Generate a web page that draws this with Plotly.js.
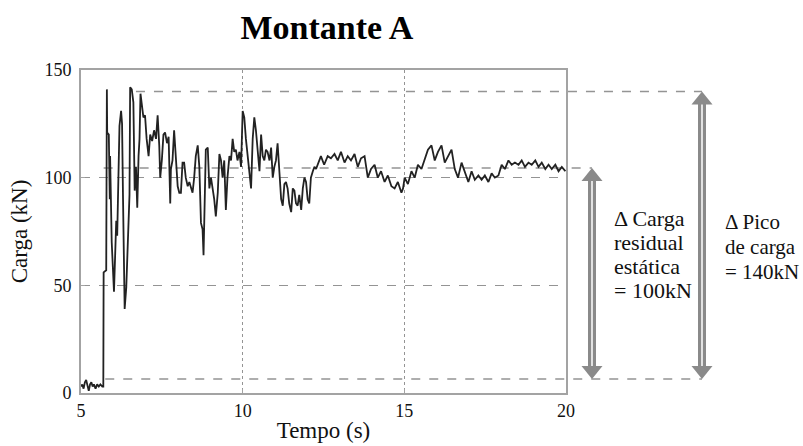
<!DOCTYPE html>
<html>
<head>
<meta charset="utf-8">
<script src="https://cdn.plot.ly/plotly-3.0.1.min.js"></script>
<style>
  html, body { margin: 0; padding: 0; background: #fff; }
  #chart { width: 803px; height: 446px; }
</style>
</head>
<body>
<div id="chart"></div>
<script>
// Load record of the upright (Montante A): time in seconds, load in kN
const time = [
  5.00, 5.04, 5.08, 5.12, 5.16, 5.20, 5.24, 5.28, 5.32, 5.36, 5.40, 5.45, 5.50, 5.55, 5.60, 5.66, 5.69,
  5.70, 5.78, 5.80, 5.81, 5.86, 5.89, 5.90, 5.95, 6.02, 6.05, 6.09, 6.12, 6.16, 6.19, 6.24, 6.27, 6.30,
  6.35, 6.40, 6.45, 6.50, 6.52, 6.57, 6.62, 6.66, 6.70, 6.74, 6.78, 6.81, 6.84, 6.89, 6.93, 6.98, 7.03,
  7.09, 7.14, 7.20, 7.26, 7.32, 7.37, 7.42, 7.45, 7.50, 7.55, 7.60, 7.66, 7.71, 7.76, 7.78, 7.83, 7.88,
  7.94, 7.99, 8.04, 8.09, 8.14, 8.19, 8.24, 8.30, 8.35, 8.40, 8.45, 8.50, 8.55, 8.61, 8.66, 8.71, 8.76,
  8.79, 8.82, 8.86, 8.92, 8.97, 9.02, 9.07, 9.12, 9.17, 9.23, 9.28, 9.33, 9.38, 9.43, 9.48, 9.53, 9.59,
  9.64, 9.69, 9.74, 9.79, 9.84, 9.90, 9.95, 10.00, 10.05, 10.10, 10.15, 10.21, 10.26, 10.31, 10.36,
  10.41, 10.46, 10.52, 10.57, 10.62, 10.67, 10.72, 10.77, 10.83, 10.88, 10.93, 10.98, 11.03, 11.08,
  11.13, 11.19, 11.24, 11.29, 11.34, 11.39, 11.44, 11.50, 11.55, 11.60, 11.65, 11.70, 11.75, 11.81,
  11.86, 11.91, 11.96, 12.01, 12.06, 12.11, 12.17, 12.22, 12.27, 12.32, 12.37,
  12.42, 12.52, 12.63, 12.73, 12.84, 12.94, 13.04, 13.15, 13.25, 13.35, 13.46, 13.56, 13.66, 13.77,
  13.87, 13.97, 14.08, 14.18, 14.28, 14.39, 14.49, 14.60, 14.70, 14.80, 14.91, 14.96, 15.01, 15.11,
  15.22, 15.32, 15.42, 15.53, 15.63, 15.73, 15.84, 15.94, 16.04, 16.15, 16.25, 16.35, 16.46, 16.56,
  16.66, 16.77, 16.87, 16.98, 17.08, 17.18, 17.29, 17.39, 17.49, 17.60, 17.70, 17.80, 17.91, 18.01,
  18.11, 18.22, 18.32, 18.42, 18.53, 18.63, 18.73, 18.84, 18.94, 19.05, 19.15, 19.25, 19.36, 19.46,
  19.56, 19.67, 19.77, 19.87, 19.98
];
const load = [
  3, 4, 2, 5, 6, 4, 1, 4, 5, 3, 4, 2, 4, 3, 4, 3, 3,
  56, 57, 141, 121, 120, 90, 110, 70, 47, 60, 80, 73, 100, 124, 131, 125, 90,
  39, 49, 75, 92, 142, 141, 135, 94, 105, 86, 110, 118, 139, 133, 128, 129, 118,
  110, 120, 117, 122, 118, 129, 115, 100, 108, 120, 121, 116, 119, 88, 104, 108, 122,
  108, 96, 93, 93, 107, 107, 100, 96, 98, 95, 93, 100, 110, 115, 105, 79, 76,
  64, 90, 113, 114, 95, 100, 95, 90, 82, 93, 111, 108, 100, 108, 85, 100, 110,
  108, 118, 112, 113, 108, 112, 105, 131, 128, 118, 110, 100, 95, 118, 128,
  122, 112, 103, 120, 110, 108, 113, 112, 108, 114, 100, 105, 108, 116,
  105, 90, 87, 97, 98, 95, 88, 84, 95, 94, 88, 87, 92, 85,
  95, 100, 98, 90, 88, 100, 103, 105, 104, 106, 108,
  110, 106, 110, 109, 111, 108, 112, 107, 110, 108, 111, 105, 109, 110,
  100, 104, 106, 100, 103, 98, 101, 96, 95, 98, 93, 95, 100, 97,
  103, 100, 106, 104, 108, 113, 115, 108, 112, 115, 107, 110, 113, 104,
  100, 107, 103, 98, 103, 99, 101, 99, 101, 98, 102, 100, 101, 106,
  104, 108, 106, 107, 106, 108, 105, 107, 106, 108, 105, 107, 104, 106,
  104, 106, 103, 105, 103
];

// Axis ticks and limits
const xTicks = [5, 10, 15, 20];
const yTicks = [0, 50, 100, 150];
const xRange = [5, 20];
const yRange = [0, 150];

// Reference levels marked on the record (kN) and where each dashed marker starts (s)
const peakLevel = 140, residualLevel = 104.5, baseLevel = 6.5;
const peakStart = 6.7, residualStart = 5.7, baseStart = 5.75;

// Bracket texts
const residualText = ['\u0394 Carga', 'residual', 'est\u00e1tica', '= 100kN'];
const peakText = ['\u0394 Pico', 'de carga', '= 140kN'];

const SERIF = 'Liberation Serif, Times New Roman, serif';
const GRID = '#949494';
const ARROW = '#8a8a8a';

// convert data values into paper fractions of the plotting area
const xp = t => (t - xRange[0]) / (xRange[1] - xRange[0]);
const yp = v => (v - yRange[0]) / (yRange[1] - yRange[0]);

const plotW = 803 - 81 - 237, plotH = 446 - 70 - 53;
const headHalf = 10.5 / plotW, headLen = 13 / plotH;

function dashLine(x0, x1, v) {
  return { type: 'line', xref: 'paper', yref: 'paper', x0: x0, x1: x1, y0: yp(v), y1: yp(v),
           line: { color: GRID, width: 1.5, dash: 'dash' }, layer: 'below' };
}
function doubleArrow(x, vTop, vBot) {
  const yt = yp(vTop), yb = yp(vBot);
  return [
    { type: 'line', xref: 'paper', yref: 'paper', x0: x, x1: x, y0: yb + headLen * 0.9, y1: yt - headLen * 0.9,
      line: { color: ARROW, width: 8 } },
    { type: 'line', xref: 'paper', yref: 'paper', x0: x, x1: x, y0: yb + headLen * 0.7, y1: yt - headLen * 0.7,
      line: { color: '#ffffff', width: 1.5 } },
    { type: 'path', xref: 'paper', yref: 'paper', fillcolor: ARROW, line: { width: 0 },
      path: `M ${x - headHalf} ${yt - headLen} L ${x} ${yt} L ${x + headHalf} ${yt - headLen} Z` },
    { type: 'path', xref: 'paper', yref: 'paper', fillcolor: ARROW, line: { width: 0 },
      path: `M ${x - headHalf} ${yb + headLen} L ${x} ${yb} L ${x + headHalf} ${yb + headLen} Z` }
  ];
}

const leftArrowX = (592 - 81) / plotW;
const rightArrowX = (702 - 81) / plotW;

const shapes = [
  dashLine(xp(peakStart), rightArrowX, peakLevel),
  dashLine(xp(residualStart), leftArrowX, residualLevel),
  dashLine(xp(baseStart), rightArrowX, baseLevel),
  ...doubleArrow(leftArrowX, residualLevel, baseLevel),
  ...doubleArrow(rightArrowX, peakLevel, baseLevel)
];

function textLines(lines, x, yTopPx, stepPx, size) {
  return lines.map((s, i) => ({
    text: s, xref: 'paper', yref: 'paper', showarrow: false,
    x: x, xanchor: 'left',
    y: (plotH - (yTopPx + i * stepPx - 70)) / plotH, yanchor: 'middle',
    font: { family: SERIF, size: size, color: '#111' }
  }));
}

const annotations = [
  ...textLines(residualText, (612 - 81) / plotW, 218, 24.3, 22),
  ...textLines(peakText, (723 - 81) / plotW, 222, 25, 21)
];

const trace = {
  x: time, y: load, type: 'scatter', mode: 'lines',
  line: { color: '#222222', width: 1.8 },
  hoverinfo: 'skip'
};

const axisBase = {
  showline: true, linecolor: '#a3a3a3', linewidth: 2, mirror: true,
  ticks: 'inside', ticklen: 4, tickcolor: '#a3a3a3', tickwidth: 1.5,
  showgrid: true, gridcolor: GRID, gridwidth: 1.5, zeroline: false,
  tickfont: { family: SERIF, size: 18, color: '#111' }
};

const layout = {
  width: 803, height: 446,
  margin: { l: 81, r: 237, t: 70, b: 53 },
  paper_bgcolor: '#ffffff', plot_bgcolor: '#ffffff',
  showlegend: false,
  title: {
    text: '<b>Montante A</b>', x: 0.507, xref: 'paper', xanchor: 'center',
    y: 1 - 27 / 446, yanchor: 'middle',
    font: { family: SERIF, size: 34, color: '#000' }
  },
  xaxis: Object.assign({}, axisBase, {
    range: xRange, tickvals: xTicks, ticktext: xTicks.map(String), griddash: 'dot',
    ticklabelstandoff: 0,
    title: { text: 'Tempo (s)', standoff: 2, font: { family: SERIF, size: 23, color: '#111' } }
  }),
  yaxis: Object.assign({}, axisBase, {
    range: yRange, tickvals: yTicks, ticktext: yTicks.map(String), griddash: 'dash',
    ticklabelstandoff: 4,
    title: { text: 'Carga (kN)', standoff: 10, font: { family: SERIF, size: 23, color: '#111' } }
  }),
  shapes: shapes,
  annotations: annotations
};

Plotly.newPlot('chart', [trace], layout, { staticPlot: true, displayModeBar: false });
</script>
</body>
</html>
